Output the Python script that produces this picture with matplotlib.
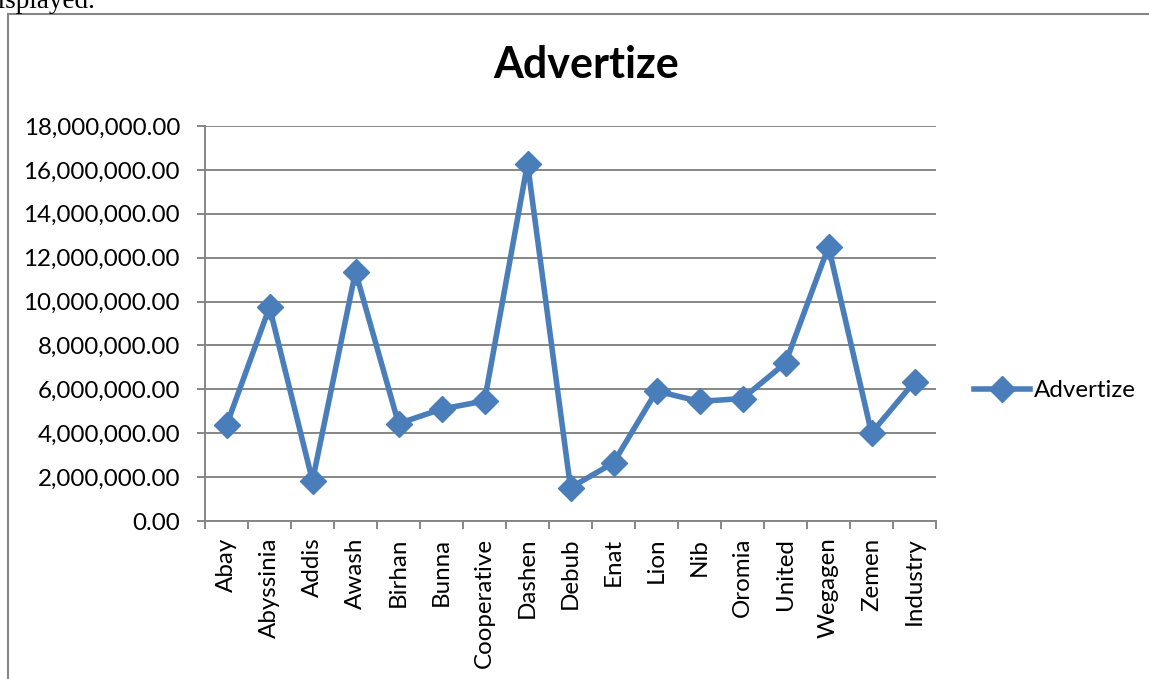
"""Line chart of advertising expense per bank."""

import matplotlib
matplotlib.use("Agg")
import matplotlib.pyplot as plt
from matplotlib.patches import Rectangle
from matplotlib.ticker import FuncFormatter, FixedLocator

banks = ["Abay", "Abyssinia", "Addis", "Awash", "Birhan", "Bunna",
         "Cooperative", "Dashen", "Debub", "Enat", "Lion", "Nib",
         "Oromia", "United", "Wegagen", "Zemen", "Industry"]
advertize = [4360000, 9740000, 1830000, 11360000, 4440000, 5100000,
             5470000, 16290000, 1520000, 2650000, 5920000, 5450000,
             5580000, 7200000, 12500000, 4010000, 6350000]

BLUE = "#4A7EBB"
GRID = "#868686"
FONT = ["Lato", "DejaVu Sans"]
SIZE = 17.4

plt.rcParams["font.family"] = FONT

fig = plt.figure(figsize=(11.49, 6.79), dpi=100)

# Frame of the embedded chart object, cut off at the right and bottom.
fig.patches.append(Rectangle((8 / 1149, -0.05), 1.2, 1.05 - 14 / 679,
                             transform=fig.transFigure, fill=False,
                             edgecolor="#868686", linewidth=1.5))
# Leftover text from the document above the chart.
fig.text(-16 / 1149, 1 - 8 / 679, "displayed.", fontsize=19.5,
         family=["Liberation Serif", "DejaVu Serif"], ha="left",
         va="baseline")

ax = fig.add_axes([205 / 1149, 1 - 521 / 679, 731 / 1149, 395 / 679])
x = list(range(len(banks)))
ax.plot(x, advertize, color=BLUE, linewidth=4, marker="D",
        markersize=13, label="Advertize", zorder=3, clip_on=False)

ax.set_ylim(0, 18000000)
ax.set_yticks(range(0, 18000001, 2000000))
ax.yaxis.set_major_formatter(FuncFormatter(lambda v, _: f"{v:,.2f}"))
ax.set_xlim(-0.5, len(banks) - 0.5)
ax.set_xticks(x)
ax.set_xticklabels(banks, rotation=90)
ax.xaxis.set_minor_locator(FixedLocator([i - 0.5 for i in range(len(banks) + 1)]))

ax.grid(axis="y", color=GRID, linewidth=1.4)
ax.set_axisbelow(True)
for side in ("top", "right"):
    ax.spines[side].set_visible(False)
for side in ("left", "bottom"):
    ax.spines[side].set_color(GRID)
    ax.spines[side].set_linewidth(1.4)

ax.tick_params(axis="y", length=6, width=1.4, color=GRID, labelsize=SIZE,
               pad=12)
ax.tick_params(axis="x", which="major", length=0, labelsize=SIZE, pad=12)
ax.tick_params(axis="x", which="minor", length=6, width=1.4, color=GRID)

fig.text(586 / 1149, 1 - 78 / 679, "Advertize", fontsize=31,
         fontweight="bold", ha="center", va="baseline")

fig.legend(loc="center left", bbox_to_anchor=(974 / 1149, 1 - 391 / 679),
           frameon=False, fontsize=SIZE, handlelength=2.3,
           handletextpad=0.16, borderpad=0, borderaxespad=0)

fig.savefig("out.png", dpi=100)
